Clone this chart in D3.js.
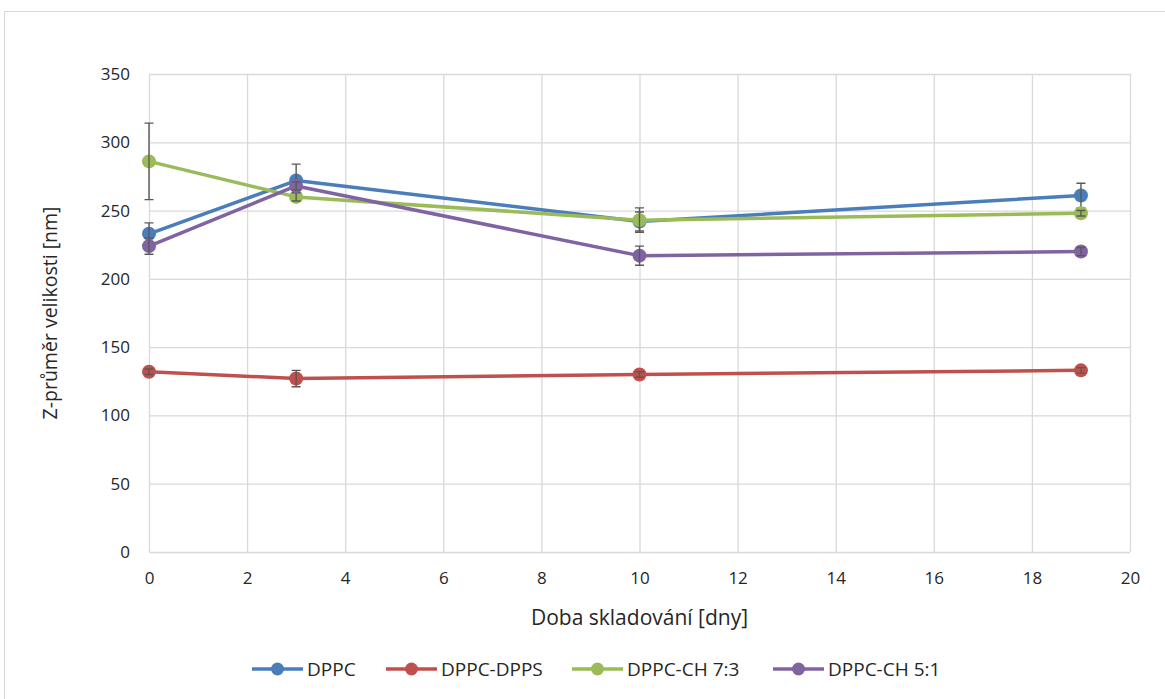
<!DOCTYPE html>
<html><head><meta charset="utf-8">
<script src="https://cdn.jsdelivr.net/npm/d3@7"></script>
<style>body{margin:0;background:#fff}svg{display:block}text{font-family:"Open Sans",sans-serif;fill:#262626}</style>
</head><body>
<svg id="c" width="1165" height="699"></svg>
<script>
const days = [0, 3, 10, 19];
const seriesNames = ["DPPC", "DPPC-DPPS", "DPPC-CH 7:3", "DPPC-CH 5:1"];
const dppc = [233, 272, 242, 261];
const dppcDpps = [132, 127, 130, 133];
const ch73 = [286, 260, 243, 248];
const ch51 = [224, 268, 217, 220];
const errDppc = [8, 12, 7, 9];
const errDpps = [2, 6, 2, 2];
const errCh73 = [28, 3, 9, 2];
const errCh51 = [6, 3, 7, 3];
const colors = ["#4A7EBB", "#C0504D", "#9BBB59", "#8064A2"];
const xTicks = [0, 2, 4, 6, 8, 10, 12, 14, 16, 18, 20];
const yTicks = [0, 50, 100, 150, 200, 250, 300, 350];

const values = [dppc, dppcDpps, ch73, ch51];
const errs = [errDppc, errDpps, errCh73, errCh51];

const svg = d3.select("#c");
svg.append("rect").attr("x", 4.5).attr("y", 11.5).attr("width", 1170).attr("height", 700)
  .attr("fill", "#fff").attr("stroke", "#d9d9d9");

const x = d3.scaleLinear().domain([0, 20]).range([149, 1130]);
const y = d3.scaleLinear().domain([0, 350]).range([552, 74]);

// grid
svg.append("g").selectAll("line").data(yTicks).join("line")
  .attr("x1", x(0)).attr("x2", x(20)).attr("y1", d => y(d) + 0.5).attr("y2", d => y(d) + 0.5)
  .attr("stroke", "#d9d9d9").attr("stroke-width", 1.3);
svg.append("g").selectAll("line").data(xTicks).join("line")
  .attr("y1", y(0)).attr("y2", y(350)).attr("x1", d => x(d) + 0.5).attr("x2", d => x(d) + 0.5)
  .attr("stroke", "#d9d9d9").attr("stroke-width", 1.3);

// axes labels
const yAxis = d3.axisLeft(y).tickValues(yTicks).tickSize(0).tickPadding(19);
const gy = svg.append("g").attr("transform", `translate(${x(0)},0)`).call(yAxis);
gy.select(".domain").remove();
gy.selectAll("text").attr("font-size", 17).attr("font-family", "Open Sans").attr("fill", "#262626");

const xAxis = d3.axisBottom(x).tickValues(xTicks).tickSize(0).tickPadding(20);
const gx = svg.append("g").attr("transform", `translate(0,${y(0)})`).call(xAxis);
gx.select(".domain").remove();
gx.selectAll("text").attr("font-size", 17).attr("font-family", "Open Sans").attr("fill", "#262626");

svg.append("text").attr("x", x(10)).attr("y", 625).attr("text-anchor", "middle")
  .attr("font-size", 21).text("Doba skladování [dny]");
svg.append("text").attr("transform", `translate(57,${(y(0) + y(350)) / 2}) rotate(-90)`)
  .attr("text-anchor", "middle").attr("font-size", 19.5).text("Z-průměr velikosti [nm]");

// series
const line = d3.line().x(d => x(d[0])).y(d => y(d[1]));
values.forEach((vals, i) => {
  const pts = days.map((d, j) => [d, vals[j], errs[i][j]]);
  const g = svg.append("g");
  g.append("path").attr("d", line(pts)).attr("fill", "none").attr("stroke", colors[i])
    .attr("stroke-width", 3.5).attr("stroke-linejoin", "round").attr("stroke-linecap", "round");
  g.selectAll("circle").data(pts).join("circle")
    .attr("cx", d => x(d[0])).attr("cy", d => y(d[1])).attr("r", 7).attr("fill", colors[i]);
  const eb = g.append("g").attr("stroke", "#595959").attr("stroke-width", 1.4).attr("fill", "none");
  pts.forEach(p => {
    const cx = x(p[0]), t = y(p[1] + p[2]), b = y(p[1] - p[2]);
    eb.append("path").attr("d", `M${cx},${t}V${b}M${cx - 4.5},${t}H${cx + 4.5}M${cx - 4.5},${b}H${cx + 4.5}`);
  });
});

// legend
const legX = [252, 386, 572, 773];
const lg = svg.append("g");
seriesNames.forEach((n, i) => {
  const lx = legX[i], ly = 669;
  lg.append("line").attr("x1", lx).attr("x2", lx + 51).attr("y1", ly).attr("y2", ly)
    .attr("stroke", colors[i]).attr("stroke-width", 3.5);
  lg.append("circle").attr("cx", lx + 25.5).attr("cy", ly).attr("r", 6.5).attr("fill", colors[i]);
  lg.append("text").attr("x", lx + 55).attr("y", ly).attr("dy", "0.35em").attr("font-size", 19).text(n);
});
</script>
</body></html>
